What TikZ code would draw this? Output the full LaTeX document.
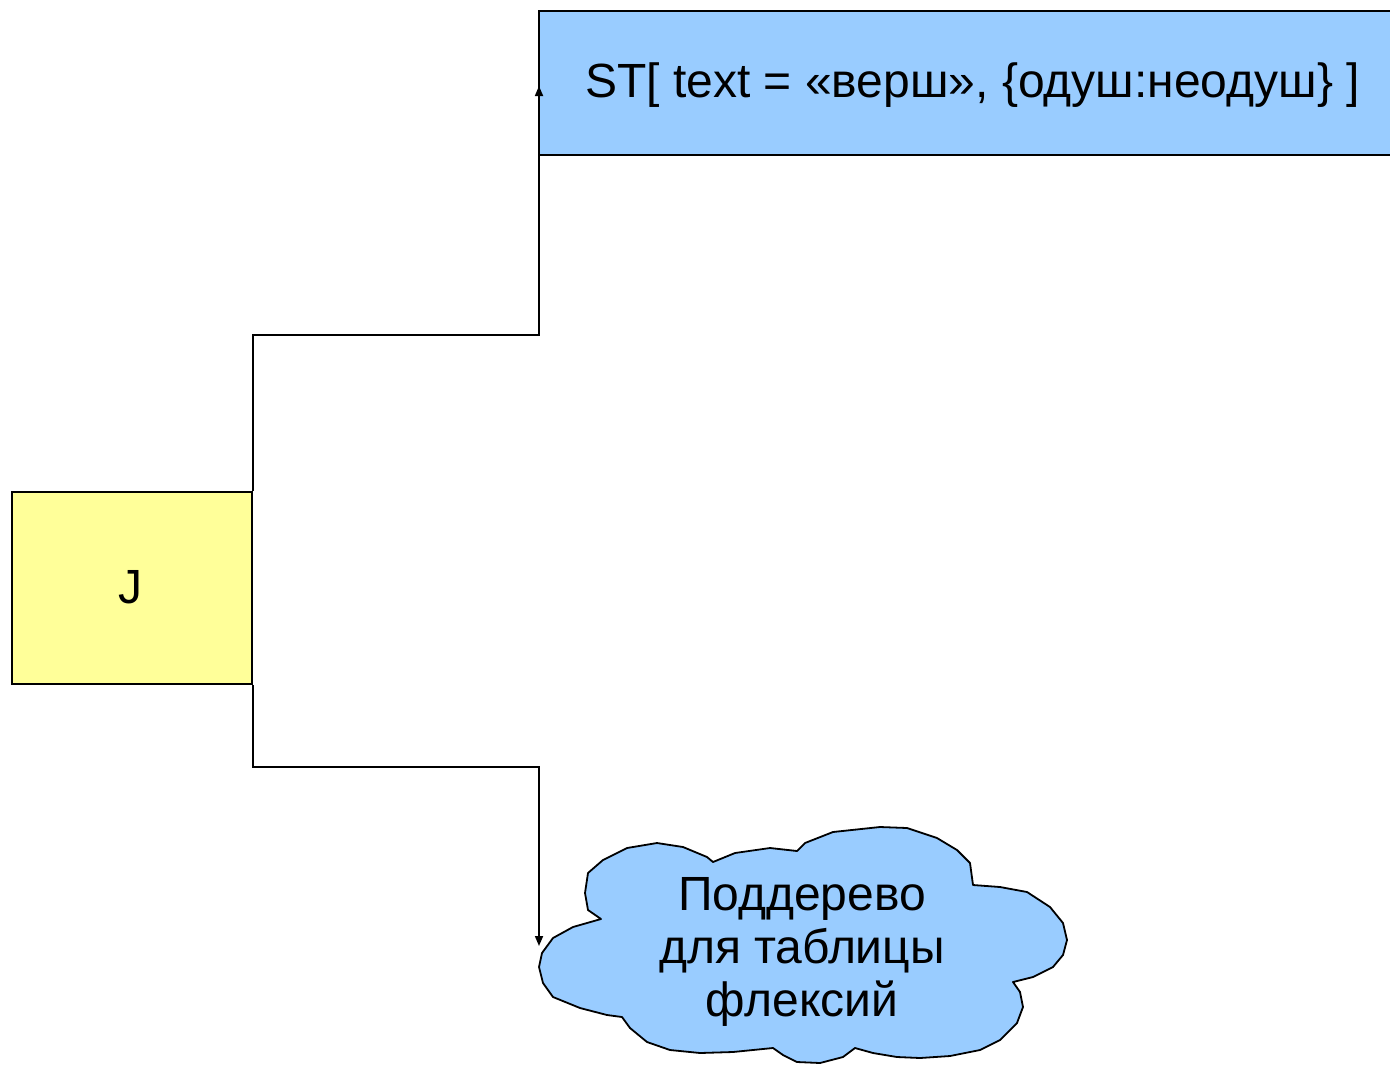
\documentclass[tikz,border=0pt]{standalone}
\usepackage{fontspec}
\setmainfont{Liberation Sans}
\usetikzlibrary{arrows.meta}

\definecolor{boxblue}{HTML}{99CCFF}
\definecolor{boxyellow}{HTML}{FFFF99}

\tikzset{
  frame/.style={draw=black, line width=1.8bp},
  link/.style={draw=black, line width=1.7bp, -{Triangle[length=10bp,width=8bp]}},
  label/.style={font=\fontsize{48bp}{53bp}\selectfont, text=black, align=center, inner sep=0pt},
}

\begin{document}
\begin{tikzpicture}[x=1bp, y=-1bp]
  \useasboundingbox (0,0) rectangle (1390,1064);

  % head box J
  \node[frame, fill=boxyellow, minimum width=240bp, minimum height=192bp,
        inner sep=0pt, anchor=north west] (head) at (11,491) {};
  \node[label] (headtxt) at (130,587) {J};

  % feature structure box (runs past the right edge)
  \fill[boxblue] (539,11) rectangle (1400,155);
  \draw[frame] (1400,11) -- (539,11) -- (539,155) -- (1400,155);
  \node[inner sep=0pt, minimum width=0pt] (st) at (539,86) {};
  \node[label, anchor=west] (sttxt) at (585,85)
    {ST[ text = «верш», \{одуш:неодуш\} ]};

  % cloud for the flexion subtree
  \draw[frame, fill=boxblue, line join=round]
    (601,919) -- (588,910) -- (585,893) -- (588,873) -- (603,860) -- (627,848)
    -- (657,843) -- (683,847) -- (707,857) -- (713,862)
    -- (735,853) -- (770,848) -- (797,851)
    -- (805,843) -- (833,832) -- (880,827) -- (907,828) -- (937,838)
    -- (957,850) -- (970,863) -- (973,885)
    -- (1000,887) -- (1027,892) -- (1050,907) -- (1063,923) -- (1067,940)
    -- (1063,955) -- (1053,967) -- (1033,977) -- (1013,982)
    -- (1020,992) -- (1023,1007) -- (1017,1023) -- (1000,1040) -- (980,1050)
    -- (950,1056) -- (920,1058) -- (897,1057) -- (873,1053) -- (855,1048)
    -- (843,1057) -- (820,1063) -- (797,1062) -- (783,1055) -- (773,1048)
    -- (733,1052) -- (700,1053) -- (670,1050) -- (647,1042) -- (630,1028)
    -- (622,1017) -- (607,1015) -- (580,1008) -- (553,997) -- (543,983)
    -- (539,967) -- (542,953) -- (553,938) -- (573,927) -- cycle;
  \node[label] (sub) at (802,952) {Поддерево\\для таблицы\\флексий};
  \coordinate (subin) at (539,946);

  % elbow connectors, bending in line with the right side of the head box
  \coordinate (upbend) at (head.north east |- 0,335);
  \coordinate (downbend) at (head.south east |- 0,767);
  \draw[link] (head.north east) -- (upbend) -| (st.center);
  \draw[link] (head.south east) -- (downbend) -| (subin);
\end{tikzpicture}
\end{document}
